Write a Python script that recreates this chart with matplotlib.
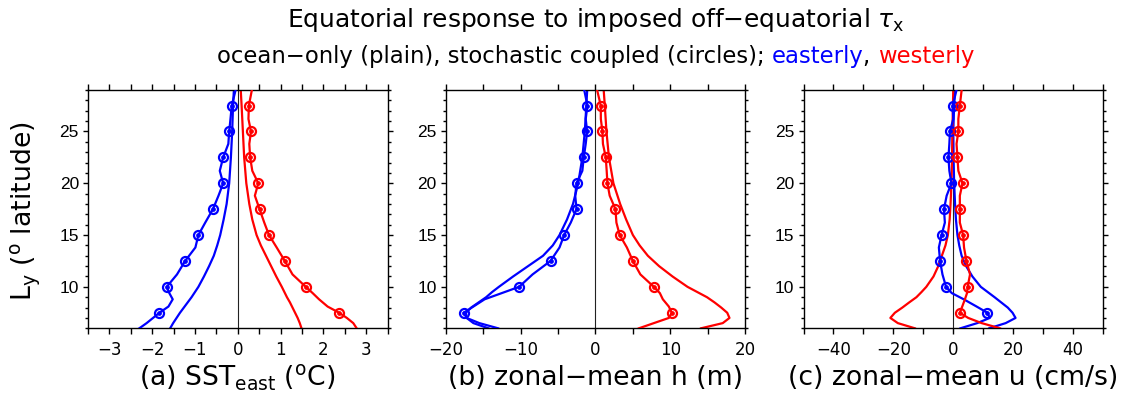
import matplotlib
matplotlib.use("Agg")
import matplotlib.pyplot as plt
from matplotlib.ticker import MultipleLocator
import numpy as np

# ---------------- data ----------------
lat_plain = [6, 6.5, 7, 7.5, 8, 8.5, 9, 9.5, 10, 11, 12, 13, 14, 15, 16.5, 18, 20, 22.5, 25, 27.5, 29]
lat_coupled = [6, 6.5, 7, 7.5, 8.1, 8.8, 9.4, 10, 11.2, 12.5, 13.8, 15, 16.2, 17.5, 18.8,
               20, 21.2, 22.5, 23.8, 25, 26.2, 27.5, 29]
marker_lats = [7.5, 10, 12.5, 15, 17.5, 20, 22.5, 25, 27.5]

# (a) SST east (deg C)
sst_ocean_east = [-1.58, -1.51, -1.43, -1.35, -1.26, -1.17, -1.08, -1.00, -0.92, -0.79, -0.67,
                  -0.56, -0.48, -0.41, -0.33, -0.26, -0.20, -0.16, -0.13, -0.11, -0.09]
sst_ocean_west = [1.49, 1.45, 1.40, 1.34, 1.28, 1.22, 1.15, 1.09, 1.03, 0.90, 0.78,
                  0.66, 0.54, 0.44, 0.34, 0.27, 0.20, 0.15, 0.12, 0.09, 0.07]
sst_coupled_east = [-2.30, -2.13, -1.98, -1.83, -1.62, -1.52, -1.60, -1.66, -1.42, -1.23, -0.99,
                    -0.92, -0.76, -0.58, -0.45, -0.34, -0.42, -0.34, -0.22, -0.20, -0.17, -0.14, -0.05]
sst_coupled_west = [2.78, 2.70, 2.55, 2.37, 2.10, 1.90, 1.75, 1.59, 1.28, 1.10, 0.91,
                    0.73, 0.62, 0.51, 0.40, 0.48, 0.34, 0.29, 0.27, 0.31, 0.25, 0.26, 0.33]

# (b) zonal-mean h (m)
h_ocean_east = [-14.3, -16.3, -17.2, -17.3, -16.6, -15.6, -14.6, -13.8, -12.9, -11.0, -9.0,
                -7.0, -5.7, -4.8, -3.8, -3.0, -2.3, -1.75, -1.42, -1.22, -1.1]
h_ocean_west = [14.1, 17.0, 17.9, 17.6, 16.8, 15.9, 14.9, 13.6, 12.3, 10.3, 8.5,
                7.0, 5.9, 5.0, 4.1, 3.3, 2.4, 1.8, 1.47, 1.25, 1.1]
h_coupled_east = [-13.0, -15.5, -17.2, -17.6, -16.3, -14.8, -12.5, -10.2, -8.4, -6.0, -4.8,
                  -4.18, -3.3, -2.53, -2.7, -2.53, -1.75, -1.56, -1.3, -1.11, -1.3, -1.07, -1.5]
h_coupled_west = [5.8, 7.8, 9.8, 10.2, 9.8, 9.0, 8.6, 7.8, 6.0, 5.0, 4.2,
                  3.24, 2.8, 2.67, 1.9, 1.6, 1.5, 1.38, 1.0, 0.93, 0.72, 0.71, 0.22]

# (c) zonal-mean u (cm/s)
u_ocean_east = [12.0, 17.5, 20.8, 19.8, 18.2, 16.0, 13.8, 11.5, 9.2, 6.4, 4.3,
                2.8, 2.0, 1.4, 0.9, 0.6, 0.3, 0.1, 0.0, 0.3, 0.6]
u_ocean_west = [-12.8, -18.5, -21.0, -19.5, -17.0, -14.7, -12.3, -10.6, -9.0, -6.6, -5.0,
                -3.8, -2.6, -1.8, -1.2, -0.9, -0.6, -0.4, -0.3, -0.1, 0.0]
u_coupled_east = [2.4, 8.0, 12.2, 11.4, 7.8, 3.5, -0.5, -2.4, -3.6, -4.4, -4.8,
                  -3.9, -2.8, -3.1, -2.2, -0.6, -1.3, -1.6, -1.3, -1.1, 0.0, -0.2, 1.1]
u_coupled_west = [15.6, 9.5, 5.0, 2.2, 3.0, 3.9, 4.6, 4.8, 5.6, 4.4, 3.6,
                  3.3, 2.2, 2.2, 2.2, 3.1, 1.7, 1.4, 1.1, 1.7, 1.7, 2.2, 2.8]

panel_labels = ["(a) SST$_{\\mathrm{east}}$ ($^{\\mathrm{o}}$C)",
                "(b) zonal\u2212mean h (m)",
                "(c) zonal\u2212mean u (cm/s)"]
title_text = "Equatorial response to imposed off\u2212equatorial $\\tau_{\\mathrm{x}}$"
subtitle_parts = ["ocean\u2212only (plain), stochastic coupled (circles); ",
                  "easterly", ", ", "westerly"]
ylabel_text = "L$_{\\mathrm{y}}$ ($^{\\mathrm{o}}$ latitude)"
xlims = [(-3.5, 3.5), (-20, 20), (-50, 50)]
xmajor = [1, 10, 20]
xminor = [0.5, 5, 10]

# ---------------- style ----------------
plt.rcParams["font.family"] = ["DejaVu Sans"]
plt.rcParams["mathtext.fontset"] = "dejavusans"
plt.rcParams["axes.linewidth"] = 1.0

BLUE = "#0000ff"
RED = "#ff0000"
W, H = 1136, 400

fig = plt.figure(figsize=(W / 100, H / 100), dpi=100)
lefts = [88 / W, 445.7 / W, 803.5 / W]
bottom = (H - 328.3) / H
height = 238.3 / H
width = 299.5 / W

series = [
    (sst_ocean_east, sst_ocean_west, sst_coupled_east, sst_coupled_west),
    (h_ocean_east, h_ocean_west, h_coupled_east, h_coupled_west),
    (u_ocean_east, u_ocean_west, u_coupled_east, u_coupled_west),
]
mark_idx = [lat_coupled.index(m) for m in marker_lats]

axes = []
for i, (oe, ow, ce, cw) in enumerate(series):
    ax = fig.add_axes([lefts[i], bottom, width, height])
    axes.append(ax)
    ax.axvline(0, color="#222222", lw=0.8, zorder=1)
    for xs, col in ((oe, BLUE), (ow, RED)):
        ax.plot(xs, lat_plain, color=col, lw=1.6, zorder=2)
    for xs, col in ((ce, BLUE), (cw, RED)):
        ax.plot(xs, lat_coupled, color=col, lw=1.6, zorder=3,
                marker="o", markevery=mark_idx, ms=6.5, mfc="none", mec=col, mew=1.6)
        ax.plot(np.array(xs)[mark_idx], np.array(lat_coupled)[mark_idx], ls="none",
                marker="o", ms=2.4, color=col, zorder=4)
    ax.set_xlim(*xlims[i])
    ax.set_ylim(6, 29)
    ax.xaxis.set_major_locator(MultipleLocator(xmajor[i]))
    ax.xaxis.set_minor_locator(MultipleLocator(xminor[i]))
    ax.yaxis.set_major_locator(MultipleLocator(5))
    ax.yaxis.set_minor_locator(MultipleLocator(1))
    ax.tick_params(which="both", direction="out", top=True, right=True, width=1.0)
    ax.tick_params(axis="x", which="both", length=4.0, labelsize=12, pad=5)
    ax.tick_params(axis="y", which="major", length=3.5, pad=3)
    ax.tick_params(axis="y", which="minor", length=2.2)
    for lab in ax.get_yticklabels():
        lab.set_fontfamily("Liberation Sans")
        lab.set_fontsize(12.5)

# ---------------- text ----------------
cx = 595.5
xl = [fig.text(lefts[i] + width / 2, (H - 378) / H, panel_labels[i], ha="center",
               va="center", fontsize=17) for i in range(3)]
yl = fig.text(26 / W, (H - 211) / H, ylabel_text, rotation=90, ha="center",
              va="center", fontsize=18)
title = fig.text(cx / W, (H - 20) / H, title_text, ha="center", va="center", fontsize=17)
sub_colors = ["black", BLUE, "black", RED]
subs = [fig.text(0, (H - 56) / H, s, ha="left", va="center", fontsize=14, color=c)
        for s, c in zip(subtitle_parts, sub_colors)]

fig.canvas.draw()
r = fig.canvas.get_renderer()


def fit(t, target):
    w = t.get_window_extent(r).width
    t.set_fontsize(t.get_fontsize() * target / w)


fit(title, 620)
fit(xl[1], 295)
for t in (xl[0], xl[2]):
    t.set_fontsize(xl[1].get_fontsize())
h = yl.get_window_extent(r).height
yl.set_fontsize(yl.get_fontsize() * 180 / h)
fig.canvas.draw()
widths = [t.get_window_extent(r).width for t in subs]
scale = 760 / sum(widths)
for t in subs:
    t.set_fontsize(t.get_fontsize() * scale)
fig.canvas.draw()
widths = [t.get_window_extent(r).width for t in subs]
x0 = cx - sum(widths) / 2
for t, w in zip(subs, widths):
    t.set_x(x0 / W)
    x0 += w

fig.savefig("out.png", dpi=100)
